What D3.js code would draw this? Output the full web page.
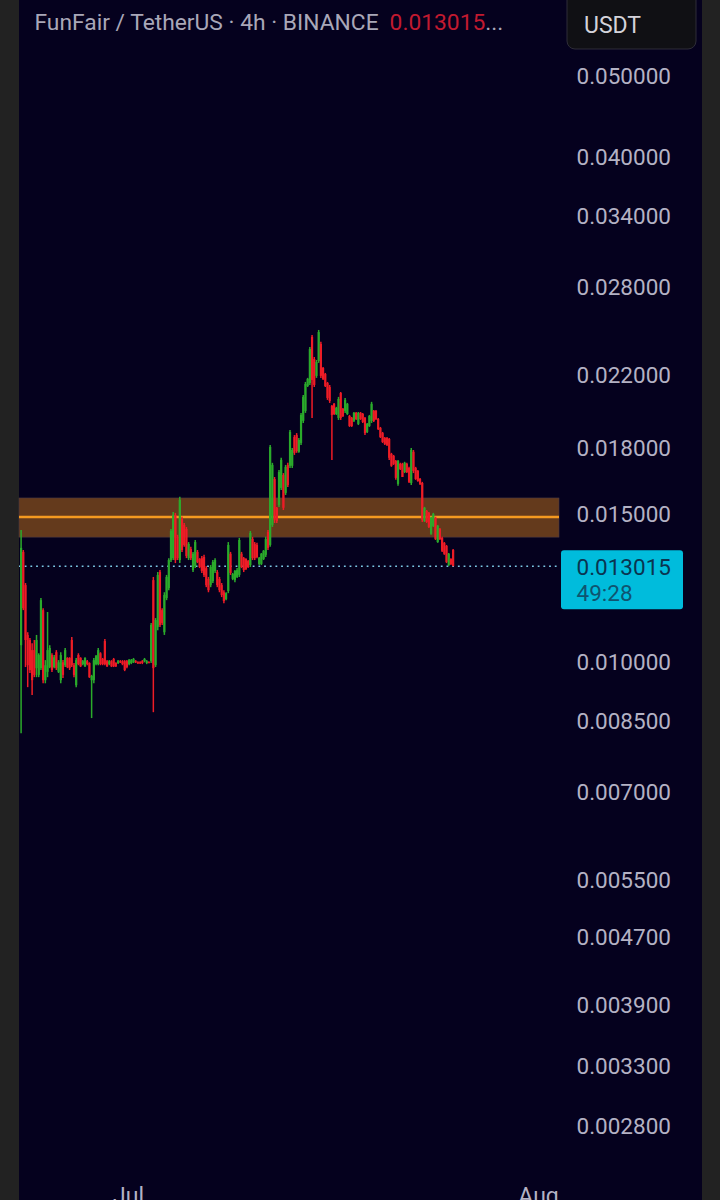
<!DOCTYPE html>
<html>
<head>
<meta charset="utf-8">
<script src="https://cdn.jsdelivr.net/npm/d3@7"></script>
<style>
  html, body { margin: 0; padding: 0; background: #222222; overflow: hidden; }
  svg { display: block; font-family: Roboto, sans-serif; }
</style>
</head>
<body>
<div id="canvas"></div>
<script>
var priceTicks = [0.05, 0.04, 0.034, 0.028, 0.022, 0.018, 0.015, 0.01, 0.0085, 0.007, 0.0055, 0.0047, 0.0039, 0.0033, 0.0028];
var monthTicks = [new Date(Date.UTC(2023, 6, 1)), new Date(Date.UTC(2023, 7, 1))];
var firstCandle = Date.UTC(2023, 5, 22, 22);
var fourHours = 4 * 3600 * 1000;

var bandTop = 0.01570, bandBottom = 0.01410, bandLine = 0.01490;
var lastPrice = 0.013015;

var highs = [.01438,.01361,.01243,.01086,.01069,.01054,.01063,.01078,.01025,.01193,.01160,.01006,.01148,.01048,.01025,.01020,.01034,.01006,.01028,.01006,
  .01040,.01014,.01014,.01072,.00998,.01012,.01025,.01014,.01006,.01014,.01006,.01000,.00966,.01012,.01020,.01040,.01028,.01012,.01066,.01006,
  .01006,.01006,.01012,.01000,.01006,.01006,.01006,.01006,.01006,.01009,.01009,.01012,.01006,.01003,.01003,.01006,.01012,.01006,.01003,.01114,
  .01264,.01129,.01281,.01288,.01160,.01212,.01271,.01331,.01442,.01511,.01507,.01419,.01575,.01491,.01466,.01450,.01391,.01373,.01354,.01399,
  .01361,.01331,.01339,.01343,.01302,.01264,.01306,.01324,.01331,.01288,.01264,.01243,.01219,.01212,.01391,.01354,.01278,.01288,.01295,.01407,
  .01354,.01335,.01331,.01324,.01434,.01411,.01391,.01388,.01335,.01350,.01361,.01411,.01438,.01816,.01729,.01663,.01532,.01695,.01753,.01681,
  .01719,.01729,.01892,.01801,.01866,.01876,.01851,.01983,.02083,.02159,.02183,.02376,.02456,.02312,.02293,.02490,.02410,.02249,.02213,.02159,
  .02141,.02027,.02038,.02016,.02072,.02100,.02010,.02066,.02038,.01972,.01961,.01988,.01988,.01988,.01988,.01983,.01961,.01929,.01972,.02044,
  .01999,.01999,.01956,.01908,.01882,.01856,.01856,.01851,.01777,.01767,.01743,.01743,.01729,.01729,.01734,.01729,.01710,.01801,.01791,.01710,
  .01695,.01659,.01641,.01532,.01519,.01511,.01491,.01507,.01491,.01458,.01446,.01411,.01391,.01380,.01350,.01331,.01365];

var lows = [.00823,.01154,.00987,.00934,.00971,.00914,.00960,.00960,.00960,.00979,.00944,.00944,.00960,.00984,.00974,.00984,.00979,.00971,.00944,.00958,
  .00987,.00984,.00979,.00987,.00960,.00934,.00992,.00987,.00992,.00987,.00992,.00958,.00858,.00944,.00992,.00992,.00992,.00992,.00992,.00987,
  .00992,.00987,.00987,.00987,.00995,.00998,.00992,.00976,.00984,.00992,.00995,.00998,.00998,.00995,.00995,.00995,.01000,.00995,.00998,.00998,
  .00872,.00987,.01092,.01102,.01108,.01078,.01186,.01219,.01317,.01324,.01313,.01324,.01313,.01354,.01373,.01331,.01324,.01324,.01281,.01295,
  .01313,.01295,.01278,.01264,.01229,.01212,.01229,.01243,.01278,.01229,.01212,.01196,.01176,.01186,.01209,.01271,.01253,.01246,.01260,.01264,
  .01295,.01281,.01288,.01295,.01299,.01324,.01324,.01331,.01306,.01306,.01324,.01335,.01361,.01373,.01450,.01466,.01466,.01532,.01605,.01519,
  .01583,.01618,.01705,.01705,.01767,.01777,.01777,.01816,.01929,.01983,.02129,.02141,.01956,.02129,.02183,.02275,.02183,.02171,.02129,.02055,
  .02038,.01743,.01972,.01972,.01945,.01945,.01961,.01983,.01972,.01908,.01908,.01934,.01945,.01918,.01945,.01929,.01866,.01876,.01908,.01929,
  .01934,.01945,.01892,.01851,.01826,.01816,.01811,.01743,.01710,.01719,.01650,.01623,.01695,.01663,.01681,.01681,.01636,.01627,.01681,.01650,
  .01641,.01627,.01470,.01470,.01466,.01446,.01419,.01450,.01399,.01388,.01399,.01354,.01343,.01313,.01302,.01306,.01306];

var opens = [.01048,.01354,.01236,.01078,.01063,.01034,.01034,.00984,.00966,.00984,.01154,.00952,.00974,.00987,.01020,.00987,.01028,.00974,.00952,.01000,
  .00992,.01012,.01012,.01063,.00992,.00939,.01020,.01012,.00995,.00989,.01003,.00998,.00952,.00952,.00995,.00995,.01025,.01009,.01060,.01003,
  .00995,.01003,.01009,.00998,.00998,.01003,.01003,.01003,.01003,.00995,.00998,.01000,.01003,.01000,.01000,.01003,.01003,.00998,.01000,.01003,
  .01253,.00992,.01102,.01281,.01154,.01086,.01193,.01226,.01324,.01331,.01499,.01411,.01324,.01482,.01458,.01442,.01331,.01365,.01288,.01302,
  .01354,.01328,.01331,.01335,.01295,.01257,.01236,.01250,.01285,.01281,.01257,.01236,.01212,.01189,.01216,.01347,.01257,.01253,.01264,.01271,
  .01347,.01331,.01328,.01320,.01306,.01403,.01384,.01380,.01310,.01310,.01328,.01343,.01430,.01380,.01458,.01654,.01528,.01540,.01614,.01672,
  .01592,.01719,.01715,.01715,.01856,.01866,.01782,.01826,.01940,.01994,.02135,.02153,.02443,.02299,.02195,.02287,.02396,.02243,.02207,.02153,
  .02129,.02021,.02033,.01977,.01956,.02094,.02005,.01994,.01977,.01966,.01956,.01940,.01983,.01924,.01983,.01977,.01956,.01882,.01913,.01940,
  .01994,.01994,.01950,.01903,.01876,.01851,.01851,.01846,.01772,.01762,.01738,.01632,.01724,.01724,.01686,.01724,.01705,.01636,.01782,.01705,
  .01691,.01654,.01636,.01474,.01515,.01507,.01423,.01454,.01487,.01391,.01442,.01407,.01388,.01376,.01306,.01328,.01361];

var closes = [.01369,.01160,.01063,.00992,.00979,.00952,.00966,.01063,.01020,.01186,.00952,.00992,.01034,.01040,.00979,.01014,.00984,.01000,.01020,.00966,
  .01034,.00987,.00984,.00992,.00966,.01006,.00995,.00989,.01003,.01012,.00995,.00960,.00963,.01006,.01017,.01034,.00995,.00995,.00995,.00989,
  .01003,.00989,.00989,.00989,.01003,.01000,.00995,.00979,.00987,.01006,.01006,.01009,.01000,.00998,.00998,.00998,.01009,.01003,.00998,.01108,
  .00984,.01123,.01271,.01108,.01114,.01203,.01264,.01324,.01434,.01499,.01324,.01331,.01562,.01361,.01380,.01339,.01384,.01331,.01347,.01391,
  .01317,.01299,.01285,.01271,.01236,.01219,.01299,.01317,.01324,.01236,.01219,.01203,.01183,.01209,.01380,.01278,.01274,.01285,.01288,.01399,
  .01299,.01288,.01292,.01299,.01426,.01331,.01331,.01335,.01331,.01347,.01358,.01403,.01369,.01806,.01719,.01478,.01474,.01686,.01743,.01528,
  .01710,.01627,.01882,.01791,.01777,.01786,.01841,.01972,.02072,.02147,.02177,.02363,.02171,.02141,.02281,.02476,.02195,.02177,.02135,.02066,
  .02049,.01972,.01977,.02010,.02060,.01956,.01966,.02055,.02033,.01913,.01913,.01983,.01950,.01983,.01950,.01934,.01876,.01924,.01966,.02033,
  .01940,.01950,.01897,.01856,.01831,.01821,.01816,.01753,.01715,.01724,.01659,.01738,.01700,.01663,.01729,.01686,.01641,.01791,.01691,.01654,
  .01645,.01632,.01478,.01528,.01470,.01450,.01487,.01503,.01403,.01454,.01403,.01358,.01347,.01317,.01347,.01310,.013015];

var width = 720, height = 1200;
var upColor = '#2cab2c', downColor = '#ee1c26';

var svg = d3.select('#canvas').append('svg')
  .attr('width', width)
  .attr('height', height);

// the reference is a soft screenshot, so the candles get a slight blur
svg.append('defs').append('filter')
  .attr('id', 'soft')
  .append('feGaussianBlur')
  .attr('stdDeviation', 0.45);

var y = d3.scaleLog().domain([0.05, 0.0028]).range([76, 1126]);
var x = d3.scaleUtc().domain(monthTicks).range([128, 538]);

// outer grey strip and the chart area
svg.append('rect').attr('width', width).attr('height', height).attr('fill', '#222222');
svg.append('rect').attr('x', 19).attr('width', 683).attr('height', height).attr('fill', '#05011e');

// orange zone
svg.append('rect')
  .attr('x', 19)
  .attr('width', 540)
  .attr('y', y(bandTop))
  .attr('height', y(bandBottom) - y(bandTop))
  .attr('fill', '#643a1c')
  .attr('stroke', '#4c3a44')
  .attr('stroke-width', 0.6);
svg.append('line')
  .attr('x1', 19).attr('x2', 559)
  .attr('y1', y(bandLine)).attr('y2', y(bandLine))
  .attr('stroke', '#f59a20')
  .attr('stroke-width', 2.4);

// last price dotted line
svg.append('line')
  .attr('x1', 19).attr('x2', 559)
  .attr('y1', y(lastPrice)).attr('y2', y(lastPrice))
  .attr('stroke', '#7cc8e4')
  .attr('stroke-width', 1.6)
  .attr('stroke-dasharray', '1.8 3.9');

// candles
var candles = d3.range(highs.length);
var barX = function (i) { return x(new Date(firstCandle + i * fourHours)); };
var barColor = function (i) { return closes[i] >= opens[i] ? upColor : downColor; };

var candleLayer = svg.append('g').attr('filter', 'url(#soft)');

candleLayer.append('g').selectAll('line').data(candles)
  .enter().append('line')
  .attr('x1', barX).attr('x2', barX)
  .attr('y1', function (i) { return y(highs[i]); })
  .attr('y2', function (i) { return y(lows[i]); })
  .attr('stroke', barColor)
  .attr('stroke-width', 1.5);

candleLayer.append('g').selectAll('rect').data(candles)
  .enter().append('rect')
  .attr('x', function (i) { return barX(i) - 1.1; })
  .attr('width', 2.2)
  .attr('y', function (i) { return y(Math.max(opens[i], closes[i])); })
  .attr('height', function (i) { return Math.max(1, Math.abs(y(opens[i]) - y(closes[i]))); })
  .attr('fill', barColor);

// price axis
var yAxis = svg.append('g')
  .attr('transform', 'translate(576.5,0)')
  .call(d3.axisRight(y).tickValues(priceTicks).tickSize(0).tickPadding(0).tickFormat(d3.format('.6f')));
yAxis.select('.domain').remove();
yAxis.selectAll('text').attr('font-size', 22.5).attr('font-family', 'Roboto').attr('fill', '#b4b2c4');

// month axis, cut off by the bottom of the screen
var xAxis = svg.append('g')
  .attr('transform', 'translate(0,1188)')
  .call(d3.axisBottom(x).tickValues(monthTicks).tickSize(0).tickPadding(0).tickFormat(d3.utcFormat('%b')));
xAxis.select('.domain').remove();
xAxis.selectAll('text').attr('font-size', 23).attr('font-family', 'Roboto').attr('fill', '#b4b2c4');

// title
var title = svg.append('text')
  .attr('x', 34.5)
  .attr('y', 30)
  .attr('font-size', 22.8)
  .attr('fill', '#a9a7b8');
title.append('tspan').text('FunFair / TetherUS \u00b7 4h \u00b7 BINANCE');
title.append('tspan').attr('dx', 11).attr('fill', '#c21a30').text(lastPrice.toFixed(6));
title.append('tspan').text('...');

// currency button
svg.append('rect')
  .attr('x', 567).attr('y', -10)
  .attr('width', 129).attr('height', 59)
  .attr('rx', 8)
  .attr('fill', '#101014')
  .attr('stroke', '#2e2d38');
svg.append('text')
  .attr('x', 584).attr('y', 33)
  .attr('font-size', 23)
  .attr('fill', '#d4d3da')
  .text('USDT');

// last price tag
svg.append('rect')
  .attr('x', 561).attr('y', y(lastPrice) - 16)
  .attr('width', 122).attr('height', 59)
  .attr('rx', 3)
  .attr('fill', '#00bcdc');
svg.append('text')
  .attr('x', 576.5).attr('y', y(lastPrice) + 9)
  .attr('font-size', 22.5)
  .attr('fill', '#0a3450')
  .text(lastPrice.toFixed(6));
svg.append('text')
  .attr('x', 576.5).attr('y', y(lastPrice) + 35)
  .attr('font-size', 22.5)
  .attr('fill', '#0f5470')
  .text('49:28');
</script>
</body>
</html>
